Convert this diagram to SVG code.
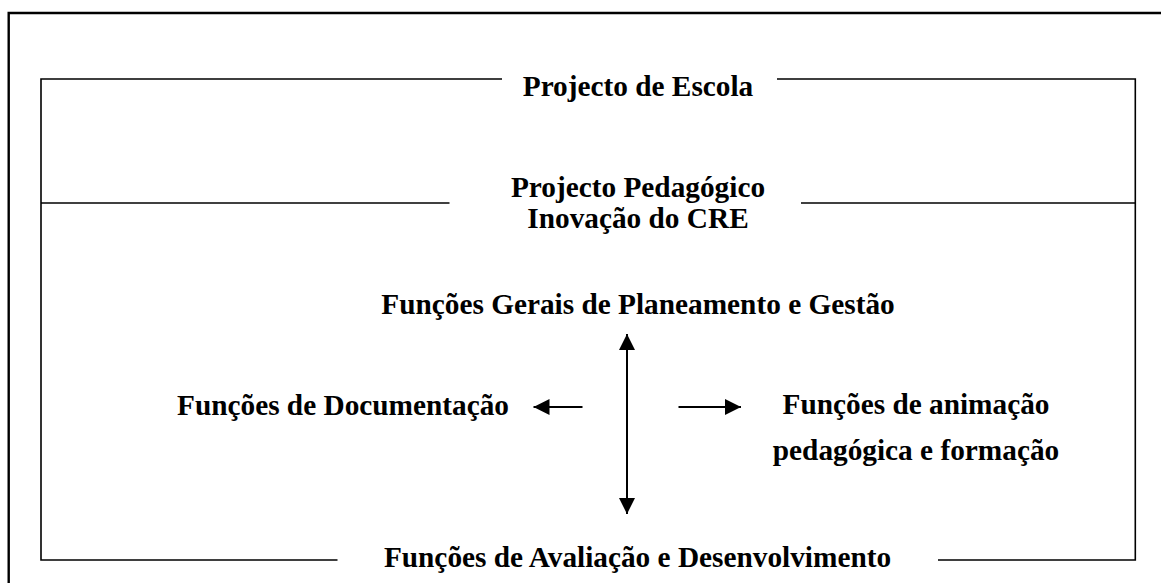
<svg xmlns="http://www.w3.org/2000/svg" width="1161" height="583" viewBox="0 0 1161 583">
<style>
.t{font-family:"Liberation Serif","Times New Roman",serif;font-weight:bold;font-size:29.3px;fill:#000;text-anchor:middle}
.frame{fill:none;stroke:#000;stroke-width:1.6}
.outer{fill:none;stroke:#000;stroke-width:2.4}
.conn{fill:none;stroke:#000;stroke-width:2}
</style>
<defs>
<marker id="ah" markerWidth="8" markerHeight="8" refX="8" refY="4" orient="auto-start-reverse" markerUnits="strokeWidth">
<path d="M0,0 L8,4 L0,8 Z" fill="#000"/>
</marker>
</defs>
<rect width="1161" height="583" fill="#fff"/>
<path class="outer" d="M8.7,583 V13 H1161"/>
<g id="projecto-escola">
<path class="frame" d="M502,79 H41 V560 H337.5"/>
<path class="frame" d="M777,79 H1135.3 V560 H938"/>
<text class="t" x="638" y="95.5">Projecto de Escola</text>
</g>
<g id="projecto-pedagogico">
<path class="frame" d="M41,203 H449.5"/>
<path class="frame" d="M801,203 H1135.3"/>
<text class="t" x="638" y="196.5">Projecto Pedagógico</text>
<text class="t" x="638" y="228">Inovação do CRE</text>
</g>
<g id="funcoes-gerais">
<text class="t" x="638" y="313.5">Funções Gerais de Planeamento e Gestão</text>
</g>
<g id="funcoes-documentacao">
<text class="t" x="343" y="415">Funções de Documentação</text>
</g>
<g id="funcoes-animacao">
<text class="t" x="916" y="413.5">Funções de animação</text>
<text class="t" x="916" y="460">pedagógica e formação</text>
</g>
<g id="funcoes-avaliacao">
<text class="t" x="637.5" y="566.5">Funções de Avaliação e Desenvolvimento</text>
</g>
<g id="connectors">
<line class="conn" x1="627" y1="334" x2="627" y2="514" marker-start="url(#ah)" marker-end="url(#ah)"/>
<line class="conn" x1="582.5" y1="407" x2="533.5" y2="407" marker-end="url(#ah)"/>
<line class="conn" x1="678.5" y1="407" x2="741" y2="407" marker-end="url(#ah)"/>
</g>
</svg>
